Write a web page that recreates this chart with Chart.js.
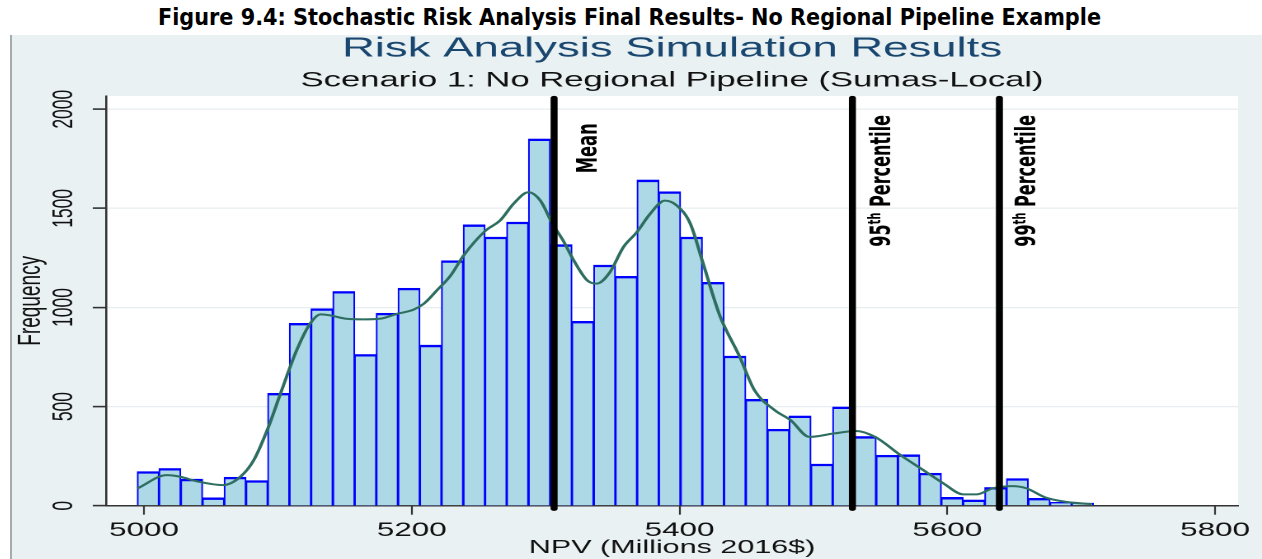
<!DOCTYPE html>
<html><head><meta charset="utf-8">
<script src="https://cdn.jsdelivr.net/npm/chart.js@4.4.1/dist/chart.umd.min.js"></script>
<style>
html,body{margin:0;padding:0;background:#fff;width:1262px;height:559px;overflow:hidden;}
#fig{position:absolute;left:158px;top:6px;font:bold 23px 'Liberation Sans Narrow','DejaVu Sans Condensed','Liberation Sans',sans-serif;line-height:23px;white-space:nowrap;color:#000;transform-origin:0 0;}
#frame{position:absolute;left:10px;top:35px;width:1252px;height:524px;background:#e9f1f3;border-left:2px solid #a3abae;box-sizing:border-box;}
#wrap{position:absolute;left:12px;top:35px;width:758px;height:524px;transform:scaleX(1.6491);transform-origin:0 0;}
</style></head><body>
<div id="fig">Figure 9.4: Stochastic Risk Analysis Final Results- No Regional Pipeline Example</div>
<div id="frame"></div>
<div id="wrap"><canvas id="c" width="758" height="524"></canvas></div>
<script>
// ---- data ----
const binCenters = [5003.1,5019.3,5035.6,5051.8,5068.0,5084.3,5100.5,5116.7,5132.9,5149.2,5165.4,5181.6,5197.9,5214.1,5230.3,5246.6,5262.8,5279.0,5295.3,5311.5,5327.7,5344.0,5360.2,5376.4,5392.6,5408.9,5425.1,5441.3,5457.6,5473.8,5490.0,5506.3,5522.5,5538.7,5555.0,5571.2,5587.4,5603.6,5619.9,5636.1,5652.3,5668.6,5684.8,5701.0];
const frequencies = [172,188,134,40,144,127,567,920,994,1081,763,971,1097,810,1236,1417,1355,1431,1850,1317,930,1214,1157,1643,1584,1355,1127,755,537,386,453,210,498,349,255,257,164,42,29,92,137,37,17,13];
const densityX = [4995,5017,5027,5039,5059,5072,5082,5092,5102,5114,5124,5132,5139,5151,5164,5176,5189,5201,5209,5219,5229,5239,5255,5266,5276,5287,5296,5305,5313,5321,5331,5338,5348,5358,5368,5378,5389,5398,5408,5417,5430,5445,5456,5471,5483,5497,5515,5532,5546,5565,5582,5597,5612,5622,5634,5649,5659,5673,5688,5708];
const densityY = [87,154,146,124,104,146,230,381,567,784,918,965,960,943,940,943,968,988,1019,1088,1161,1265,1387,1439,1523,1581,1539,1423,1338,1237,1137,1120,1178,1304,1379,1472,1539,1514,1423,1235,960,750,582,482,431,347,364,377,347,255,180,113,57,57,88,99,88,42,20,8];
const markerValues = [5306.3, 5529.1, 5638.9];
const markerLabels = ['Mean', '95th Percentile', '99th Percentile'];
const xTickValues = [5000, 5200, 5400, 5600, 5800];
const xTickLabels = ['5000', '5200', '5400', '5600', '5800'];
const yTickValues = [0, 500, 1000, 1500, 2000];
const yTickLabels = ['0', '500', '1000', '1500', '2000'];
const chartTitle = 'Risk Analysis Simulation Results';
const chartSubtitle = 'Scenario 1: No Regional Pipeline (Sumas-Local)';
const xTitle = 'NPV (Millions 2016$)';
const yTitle = 'Frequency';

// ---- figure caption width fit ----
(function(){
  const f = document.getElementById('fig');
  const w = f.getBoundingClientRect().width;
  f.style.transform = 'scaleX(' + (943 / w) + ')';
})();

const FONT = "'Liberation Sans', Arial, sans-serif";
const LABEL_FONT = "'Liberation Sans Narrow', 'DejaVu Sans Condensed', 'Liberation Sans', sans-serif";

function drawLabel(ctx, text, xBase, yStart, len, size) {
  const m = /^(\d+)(th)(.*)$/.exec(text);
  const parts = m ? [{t: m[1], s: false}, {t: m[2], s: true}, {t: m[3], s: false}] : [{t: text, s: false}];
  const mainF = 'bold ' + size + 'px ' + LABEL_FONT;
  const supF = 'bold ' + (size * 0.62) + 'px ' + LABEL_FONT;
  let total = 0;
  parts.forEach(p => { ctx.font = p.s ? supF : mainF; p.w = ctx.measureText(p.t).width; total += p.w; });
  const k = len / total;
  ctx.save();
  ctx.translate(xBase, yStart);
  ctx.rotate(-Math.PI / 2);
  ctx.scale(k, 1);
  ctx.fillStyle = '#000';
  ctx.textAlign = 'left';
  ctx.textBaseline = 'alphabetic';
  let pos = 0;
  parts.forEach(p => {
    ctx.font = p.s ? supF : mainF;
    ctx.fillText(p.t, pos, p.s ? -size * 0.36 : 0);
    pos += p.w;
  });
  ctx.restore();
}

const plotBg = {
  id: 'plotBg',
  beforeDraw(chart) {
    const {ctx, chartArea: a} = chart;
    ctx.save();
    ctx.fillStyle = '#ffffff';
    ctx.fillRect(a.left, a.top, a.right - a.left, a.bottom - a.top);
    ctx.restore();
  }
};

const markers = {
  id: 'markers',
  afterDatasetsDraw(chart, args, opts) {
    const {ctx, chartArea: a, scales: {x}} = chart;
    ctx.save();
    markerValues.forEach((v, i) => {
      const px = x.getPixelForValue(v);
      ctx.beginPath();
      ctx.strokeStyle = '#000';
      ctx.lineWidth = opts.lineWidth;
      ctx.lineCap = 'round';
      ctx.moveTo(px, a.top + 2);
      ctx.lineTo(px, a.bottom + 3);
      ctx.stroke();
      const L = opts.labels[i];
      drawLabel(ctx, markerLabels[i], px + L.dx, L.y, L.len, opts.fontSize);
    });
    ctx.restore();
  }
};

new Chart(document.getElementById('c'), {
  type: 'bar',
  data: {
    datasets: [
      {
        type: 'line',
        order: 0,
        data: densityX.map((x, i) => ({x: x, y: densityY[i]})),
        borderColor: '#2e6e60',
        borderWidth: 2,
        pointRadius: 0,
        fill: false,
        cubicInterpolationMode: 'monotone'
      },
      {
        type: 'bar',
        order: 1,
        data: binCenters.map((x, i) => ({x: x, y: frequencies[i]})),
        backgroundColor: '#add8e6',
        borderColor: '#0000ff',
        borderWidth: {top: 2.4, left: 1.05, right: 1.05, bottom: 0},
        borderSkipped: 'start',
        barPercentage: 1,
        categoryPercentage: 1
      }
    ]
  },
  options: {
    responsive: false,
    animation: false,
    devicePixelRatio: 2,
    layout: {padding: {top: 0, left: 0, right: 14.5, bottom: 0}},
    plugins: {
      legend: {display: false},
      tooltip: {enabled: false},
      title: {
        display: true, text: chartTitle, fullSize: false, color: '#1a476f',
        font: {family: FONT, size: 27.6, weight: 'normal', lineHeight: 0.9},
        padding: {top: 1.5, bottom: 8.5}
      },
      subtitle: {
        display: true, text: chartSubtitle, fullSize: false, color: '#111',
        font: {family: FONT, size: 21, weight: 'normal', lineHeight: 1},
        padding: {top: 0.5, bottom: 4.6}
      },
      markers: {
        lineWidth: 4.25,
        fontSize: 16.5,
        labels: [
          {dx: 25.9, y: 138.3, len: 50},
          {dx: 22.9, y: 211.7, len: 131.7},
          {dx: 21.7, y: 211.7, len: 131.7}
        ]
      }
    },
    scales: {
      x: {
        type: 'linear', min: 4971.6, max: 5817.2, offset: false,
        afterBuildTicks: s => { s.ticks = xTickValues.map(v => ({value: v})); },
        afterFit: s => { s.height = 53.3; },
        ticks: {
          autoSkip: false, maxRotation: 0, padding: 4.5, color: '#111',
          font: {family: FONT, size: 19},
          callback: (v, i) => xTickLabels[i]
        },
        grid: {drawOnChartArea: false, drawTicks: true, tickLength: 9, tickColor: '#333', tickWidth: 1.1, offset: false},
        border: {color: '#333', width: 1.5},
        title: {display: true, text: xTitle, color: '#111', font: {family: FONT, size: 18.5, lineHeight: 1.2}, padding: 0}
      },
      y: {
        type: 'linear', min: 0, max: 2067,
        afterBuildTicks: s => { s.ticks = yTickValues.map(v => ({value: v})); },
        afterFit: s => { s.width = 57; },
        ticks: {
          autoSkip: false, minRotation: 90, maxRotation: 90, crossAlign: 'center', padding: -2, color: '#111',
          font: {family: FONT, size: 17.5},
          callback: (v, i) => yTickLabels[i]
        },
        grid: {color: '#e6eef0', lineWidth: 1.2, tickColor: '#333', tickLength: 8, tickWidth: 1.6},
        border: {color: '#333', width: 1.3},
        title: {display: true, text: yTitle, color: '#111', font: {family: FONT, size: 19, lineHeight: 0.95}, padding: {top: 2.5, bottom: 0}}
      }
    }
  },
  plugins: [plotBg, markers]
});
</script>
</body></html>
